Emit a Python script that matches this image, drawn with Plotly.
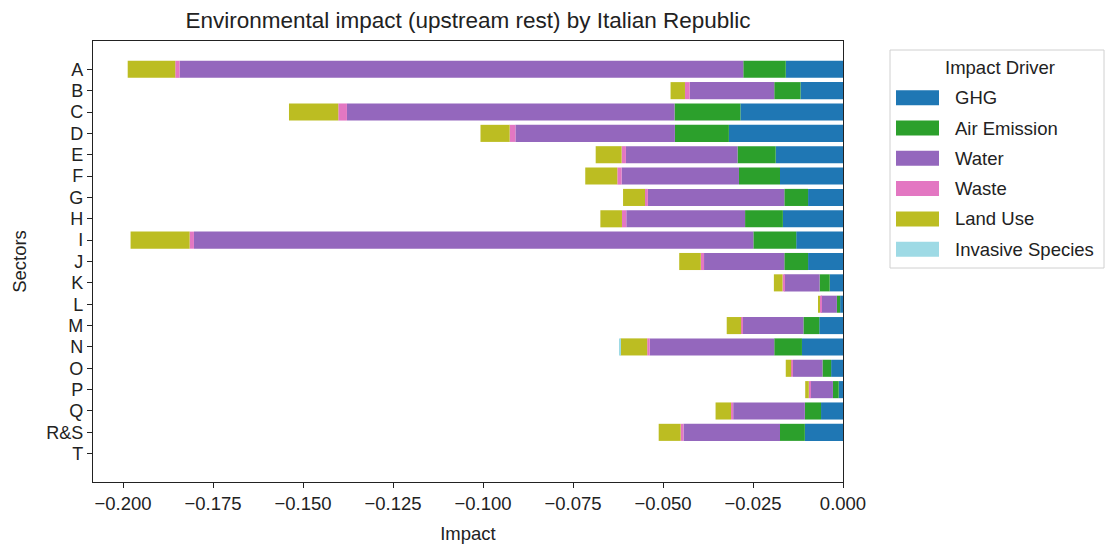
import plotly.graph_objects as go

# Sectors (top to bottom) and per-driver impact, stacked leftwards from zero
sectors = ["A", "B", "C", "D", "E", "F", "G", "H", "I", "J",
           "K", "L", "M", "N", "O", "P", "Q", "R&S", "T"]

ghg = [-0.0159, -0.0118, -0.0285, -0.0317, -0.0187, -0.0175, -0.0097, -0.0167, -0.0130, -0.0097,
       -0.0037, -0.0008, -0.0066, -0.0114, -0.0033, -0.0012, -0.0061, -0.0106, 0.0]
air_emission = [-0.0118, -0.0073, -0.0183, -0.0150, -0.0106, -0.0114, -0.0066, -0.0105, -0.0119, -0.0066,
                -0.0028, -0.0009, -0.0044, -0.0077, -0.0024, -0.0016, -0.0045, -0.0069, 0.0]
water = [-0.1566, -0.0235, -0.0910, -0.0443, -0.0310, -0.0326, -0.0379, -0.0330, -0.1554, -0.0223,
         -0.0098, -0.0044, -0.0169, -0.0346, -0.0082, -0.0062, -0.0199, -0.0268, 0.0]
waste = [-0.0012, -0.0013, -0.0024, -0.0016, -0.0012, -0.0012, -0.0008, -0.0012, -0.0012, -0.0009,
         -0.0005, -0.0003, -0.0004, -0.0007, -0.0005, -0.0005, -0.0006, -0.0008, 0.0]
land_use = [-0.0132, -0.0040, -0.0137, -0.0081, -0.0072, -0.0089, -0.0061, -0.0060, -0.0164, -0.0060,
            -0.0024, -0.0005, -0.0040, -0.0074, -0.0015, -0.0010, -0.0043, -0.0061, 0.0]
invasive_species = [0.0, 0.0, 0.0, 0.0, 0.0, 0.0, 0.0, 0.0, 0.0, 0.0,
                    0.0, 0.0, 0.0, -0.0004, 0.0, 0.0, 0.0, 0.0, 0.0]

drivers = ["GHG", "Air Emission", "Water", "Waste", "Land Use", "Invasive Species"]
colors = ["#1f77b4", "#2ca02c", "#9467bd", "#e377c2", "#bcbd22", "#9edae5"]
series = [ghg, air_emission, water, waste, land_use, invasive_species]

x_ticks = [-0.2, -0.175, -0.15, -0.125, -0.1, -0.075, -0.05, -0.025, 0.0]

FONT = "Liberation Sans, Arial, Helvetica, sans-serif"
INK = "#222222"

fig = go.Figure()
for name, color, vals in zip(drivers, colors, series):
    fig.add_trace(go.Bar(
        y=sectors, x=vals, name=name, orientation="h",
        marker=dict(color=color, line=dict(width=0)),
        showlegend=False,
    ))

# Plot-area geometry in pixels (used to place the side legend box)
W, H = 1107, 546
L, R, T, B = 93, 264, 41, 64
PW, PH = W - L - R, H - T - B


def px_x(px):
    return (px - L) / PW


def px_y(py):
    return (H - B - py) / PH


shapes = []
annotations = []

# Legend frame
shapes.append(dict(
    type="rect", xref="paper", yref="paper",
    x0=px_x(890), x1=px_x(1104), y0=px_y(268), y1=px_y(50),
    line=dict(color="#d0d0d0", width=1), fillcolor="white", layer="above",
))
annotations.append(dict(
    xref="paper", yref="paper", x=px_x(1000), y=px_y(67),
    text="Impact Driver", showarrow=False, xanchor="center", yanchor="middle",
    font=dict(family=FONT, size=18.5, color=INK),
))
for i, (name, color) in enumerate(zip(drivers, colors)):
    cy = 97.7 + i * 30.3
    shapes.append(dict(
        type="rect", xref="paper", yref="paper",
        x0=px_x(896), x1=px_x(939), y0=px_y(cy + 7.5), y1=px_y(cy - 7.5),
        line=dict(width=0), fillcolor=color, layer="above",
    ))
    annotations.append(dict(
        xref="paper", yref="paper", x=px_x(953), y=px_y(cy),
        text=name, showarrow=False, xanchor="left", yanchor="middle",
        font=dict(family=FONT, size=18.5, color=INK),
    ))

fig.update_layout(
    width=W, height=H,
    margin=dict(l=L, r=R, t=T, b=B, pad=0),
    barmode="relative", bargap=0.2,
    plot_bgcolor="white", paper_bgcolor="white",
    font=dict(family=FONT, size=18, color=INK),
    title=dict(
        text="Environmental impact (upstream rest) by Italian Republic",
        x=px_x(468), xref="paper", xanchor="center",
        y=1 - 20 / H, yref="container", yanchor="middle",
        font=dict(family=FONT, size=22.5, color=INK),
    ),
    xaxis=dict(
        range=[-0.20834, 0.0],
        automargin=False,
        tickmode="array", tickvals=x_ticks,
        tickformat=".3f",
        ticks="outside", ticklen=5, tickwidth=1, tickcolor=INK,
        showline=True, linecolor=INK, linewidth=1.2, mirror=True,
        showgrid=False, zeroline=False,
        tickfont=dict(family=FONT, size=18.5, color=INK),
        title=dict(text="Impact", standoff=13,
                   font=dict(family=FONT, size=18.5, color=INK)),
    ),
    yaxis=dict(
        type="category",
        automargin=False,
        categoryorder="array", categoryarray=sectors,
        tickmode="array", tickvals=sectors, ticktext=sectors,
        range=[len(sectors) - 1 + 1.325, -1.325],
        ticks="outside", ticklen=5, tickwidth=1, tickcolor=INK,
        showline=True, linecolor=INK, linewidth=1.2, mirror=True,
        showgrid=False, zeroline=False,
        tickfont=dict(family=FONT, size=18, color=INK),
        title=dict(text="Sectors", standoff=14,
                   font=dict(family=FONT, size=18.5, color=INK)),
    ),
    shapes=shapes,
    annotations=annotations,
)

fig.write_html("out.html")
